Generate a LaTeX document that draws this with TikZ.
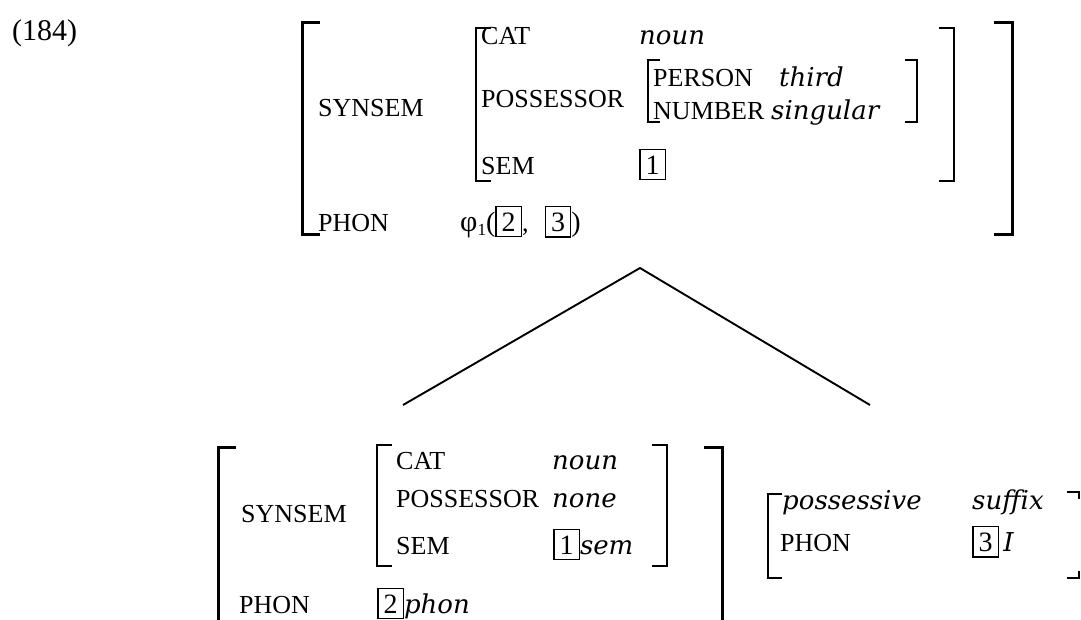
\documentclass[tikz,border=0pt]{standalone}
\usepackage{fontspec}
\setmainfont{Liberation Serif}
\newfontfamily\valfont{DejaVu Serif}
\newcommand\bnum[1]{{\fontsize{28}{28}\selectfont\setlength\fboxsep{5pt}\setlength\fboxrule{1.4pt}\fbox{\rule{0pt}{19pt}#1}}}
\newcommand\vit[1]{{\valfont\itshape #1}}
\begin{document}
\begin{tikzpicture}[x=1pt,y=-1pt,
  lab/.style={anchor=base west, inner sep=0pt, font=\fontsize{26}{26}\selectfont},
  val/.style={anchor=base west, inner sep=0pt, font=\fontsize{26}{26}\selectfont\valfont\itshape},
  inb/.style={line width=2pt},
  outb/.style={line width=3pt},
  branch/.style={line width=1.9pt}]
\useasboundingbox (0,0) rectangle (1081,619);
% example number
\node[anchor=base west, inner sep=0pt, font=\fontsize{30}{30}\selectfont] (num) at (12,40) {(184)};
% ---------- top AVM ----------
\draw[outb] (320,22) -- (302,22) -- (302,234) -- (320,234);
\draw[outb] (994,22) -- (1012,22) -- (1012,234) -- (994,234);
\draw[inb] (491,28) -- (476,28) -- (476,181) -- (491,181);
\draw[inb] (939,28) -- (954,28) -- (954,181) -- (939,181);
\draw[inb] (660,60) -- (648,60) -- (648,122) -- (660,122);
\draw[inb] (905,60) -- (917,60) -- (917,122) -- (905,122);
\node[lab] (tsyn) at (318,116) {SYNSEM};
\node[lab] (tphon) at (318,231) {PHON};
\node[lab] (tcat) at (481,44) {CAT};
\node[val] (tnoun) at (639,44) {noun};
\node[lab] (tposs) at (481,107) {POSSESSOR};
\node[lab] (tpers) at (653,86) {PERSON};
\node[val] (tthird) at (779,86) {third};
\node[lab] (tnumb) at (653,119) {NUMBER};
\node[val] (tsing) at (771,119) {singular};
\node[lab] (tsem) at (481,174) {SEM};
\node[lab] (tone) at (639,174) {\bnum{1}};
\node[lab] (tphi) at (460,231) {{\fontsize{30}{30}\selectfont φ}\raisebox{-4pt}{\fontsize{17}{17}\selectfont 1}{\fontsize{28}{28}\selectfont(}\bnum{2},\hspace{16pt}\bnum{3}{\fontsize{28}{28}\selectfont)}};
% ---------- branches ----------
\coordinate (apex) at (640,268);
\coordinate (lend) at (403,405);
\coordinate (rend) at (870,405);
\draw[branch] (lend) -- (apex) -- (rend);
% ---------- bottom left AVM ----------
\draw[outb] (236,447) -- (218,447) -- (218,625);
\draw[outb] (704,447) -- (722,447) -- (722,625);
\draw[inb] (392,445) -- (377,445) -- (377,566) -- (392,566);
\draw[inb] (652,445) -- (667,445) -- (667,566) -- (652,566);
\node[lab] (bsyn) at (241,522) {SYNSEM};
\node[lab] (bcat) at (396,469) {CAT};
\node[val] (bnoun) at (552,469) {noun};
\node[lab] (bposs) at (396,507) {POSSESSOR};
\node[val] (bnone) at (552,507) {none};
\node[lab] (bsem) at (396,554) {SEM};
\node[lab] (bone) at (553,554) {\bnum{1}\vit{sem}};
\node[lab] (bphon) at (239,613) {PHON};
\node[lab] (btwo) at (377,613) {\bnum{2}\vit{phon}};
% ---------- bottom right AVM ----------
\draw[inb] (782,494) -- (768,494) -- (768,578) -- (782,578);
\draw[inb] (1067,492) -- (1079,492) -- (1079,499);
\draw[inb] (1067,578) -- (1079,578) -- (1079,571);
\node[val] (rposs) at (782,509) {possessive};
\node[val] (rsuf) at (972,509) {suffix};
\node[lab] (rphon) at (780,551) {PHON};
\node[lab] (rthree) at (972,551) {\bnum{3}\,\vit{I}};
\end{tikzpicture}
\end{document}
